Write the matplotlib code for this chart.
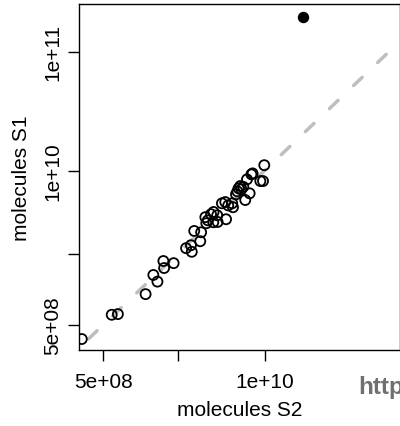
import numpy as np
import matplotlib
matplotlib.use("Agg")
import matplotlib.pyplot as plt

plt.rcParams["font.family"] = ["Liberation Sans", "DejaVu Sans"]

# molecule counts, sample S2 (x) vs sample S1 (y)
s2 = [3.37e8, 5.87e8, 6.58e8, 1.10e9, 1.27e9, 1.37e9, 1.53e9, 1.55e9, 1.85e9,
      2.33e9, 2.55e9, 2.59e9, 2.71e9, 3.03e9, 3.08e9, 3.39e9, 3.49e9, 3.70e9,
      3.88e9, 3.86e9, 4.18e9, 4.53e9, 4.82e9, 4.89e9, 5.48e9, 5.56e9, 5.88e9,
      6.03e9, 6.17e9, 6.37e9, 6.49e9, 6.73e9, 6.98e9, 7.21e9, 7.57e9, 7.82e9,
      8.00e9, 9.23e9, 9.70e9, 9.93e9, 3.33e9, 5.09e9, 4.15e9]
s1 = [3.81e8, 6.10e8, 6.18e8, 9.10e8, 1.32e9, 1.16e9, 1.73e9, 1.51e9, 1.66e9,
      2.22e9, 2.35e9, 2.07e9, 3.10e9, 2.54e9, 3.02e9, 3.60e9, 3.81e9, 4.29e9,
      4.48e9, 3.67e9, 3.69e9, 5.30e9, 5.43e9, 3.89e9, 5.30e9, 4.91e9, 6.31e9,
      6.68e9, 7.08e9, 7.41e9, 6.95e9, 7.29e9, 5.65e9, 8.43e9, 6.43e9, 9.29e9,
      9.47e9, 8.16e9, 8.16e9, 1.11e10, 4.05e9, 5.09e9, 4.20e9]

outlier_s2 = [2.03e10]
outlier_s1 = [1.97e11]

xticks = [5e8, 2e9, 1e10]
xticklabels = ["5e+08", "", "1e+10"]
yticks = [5e8, 2e9, 1e10, 1e11]
yticklabels = ["5e+08", "", "1e+10", "1e+11"]

fig = plt.figure(figsize=(4.0, 4.27), dpi=100)
ax = fig.add_axes([79 / 400, 76 / 427, 321 / 400, 346 / 427])

ax.set_xscale("log")
ax.set_yscale("log")
ax.set_xlim(3.2e8, 1.23e11)
ax.set_ylim(3.08e8, 2.53e11)

ax.plot([1e8, 1.05e11], [1e8, 1.05e11], color="#BEBEBE", lw=2.5,
        dashes=(3.4, 6.2), dash_capstyle="round", zorder=1)
ax.scatter(s2, s1, s=52, facecolors="none", edgecolors="black",
           linewidths=1.3, zorder=2)
ax.scatter(outlier_s2, outlier_s1, s=52, color="black", zorder=3)

ax.minorticks_off()
ax.set_xticks(xticks)
ax.set_xticklabels(xticklabels)
ax.set_yticks(yticks)
ax.set_yticklabels(yticklabels, rotation=90, va="center")
ax.tick_params(axis="both", length=8, width=1, labelsize=15, direction="out")
ax.tick_params(axis="x", pad=8)
ax.tick_params(axis="y", pad=4)
for sp in ax.spines.values():
    sp.set_linewidth(1)

ax.set_xlabel("molecules S2", fontsize=15, labelpad=6)
ax.set_ylabel("molecules S1", fontsize=15, labelpad=9)

fig.text(358 / 400, 1 - 394 / 427, "http", fontsize=17.5, fontweight="bold",
         color="#707070", ha="left", va="baseline")

fig.savefig("out.png", dpi=100)
